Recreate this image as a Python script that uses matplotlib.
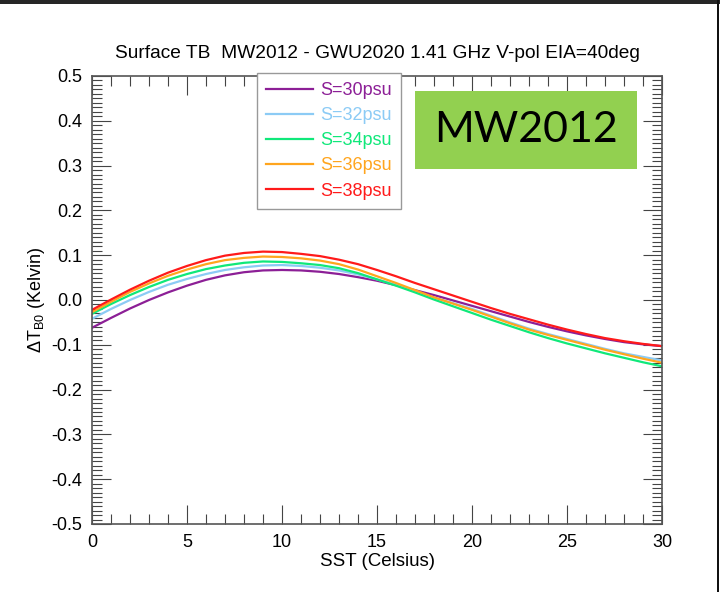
import numpy as np
import matplotlib.pyplot as plt
from matplotlib.patches import Rectangle
from matplotlib.ticker import MultipleLocator, FuncFormatter

plt.rcParams['font.family'] = ['Liberation Sans', 'DejaVu Sans']
plt.rcParams['mathtext.fontset'] = 'custom'
plt.rcParams['mathtext.rm'] = 'Liberation Sans'

# --- DATA (every 1 degC) ---
sst = list(range(0, 31))
dtb_s30 = [-0.062, -0.040, -0.019, 0.000, 0.017, 0.032, 0.045, 0.055, 0.062, 0.066,
           0.067, 0.066, 0.063, 0.058, 0.051, 0.043, 0.033, 0.022, 0.011, -0.001,
           -0.013, -0.025, -0.037, -0.049, -0.060, -0.070, -0.079, -0.087, -0.094, -0.099, -0.103]
dtb_s32 = [-0.042, -0.020, 0.000, 0.018, 0.034, 0.047, 0.058, 0.067, 0.073, 0.077,
           0.078, 0.076, 0.072, 0.066, 0.057, 0.046, 0.034, 0.019, 0.005, -0.007,
           -0.020, -0.035, -0.050, -0.064, -0.076, -0.087, -0.098, -0.109, -0.119, -0.127, -0.135]
dtb_s34 = [-0.031, -0.009, 0.011, 0.029, 0.045, 0.058, 0.069, 0.077, 0.083, 0.086,
           0.085, 0.082, 0.078, 0.071, 0.060, 0.046, 0.032, 0.017, 0.001, -0.014,
           -0.029, -0.044, -0.058, -0.072, -0.085, -0.097, -0.108, -0.119, -0.129, -0.139, -0.148]
dtb_s36 = [-0.027, -0.004, 0.018, 0.037, 0.054, 0.068, 0.080, 0.089, 0.094, 0.097,
           0.096, 0.093, 0.088, 0.080, 0.068, 0.053, 0.038, 0.022, 0.006, -0.008,
           -0.022, -0.037, -0.052, -0.066, -0.078, -0.089, -0.100, -0.111, -0.121, -0.131, -0.140]
dtb_s38 = [-0.022, 0.001, 0.023, 0.043, 0.061, 0.076, 0.089, 0.099, 0.105, 0.108,
           0.107, 0.103, 0.098, 0.090, 0.080, 0.067, 0.053, 0.038, 0.024, 0.010,
           -0.004, -0.018, -0.031, -0.043, -0.055, -0.066, -0.076, -0.085, -0.092, -0.098, -0.103]
labels = ['S=30psu', 'S=32psu', 'S=34psu', 'S=36psu', 'S=38psu']
colors = ['#8c1f96', '#8ccbf5', '#10e87a', '#ffa51e', '#ff1a1a']

fig = plt.figure(figsize=(7.2, 5.92), dpi=100)
ax = fig.add_axes([92/720, 1-524/592, 570/720, 448/592])

for y, lab, c in zip([dtb_s30, dtb_s32, dtb_s34, dtb_s36, dtb_s38], labels, colors):
    ax.plot(sst, y, color=c, lw=1.6, label=lab)

ax.set_xlim(0, 30)
ax.set_ylim(-0.5, 0.5)
ax.xaxis.set_major_locator(MultipleLocator(5))
ax.xaxis.set_minor_locator(MultipleLocator(1))
ax.yaxis.set_major_locator(MultipleLocator(0.1))
ax.yaxis.set_minor_locator(MultipleLocator(0.01))
ax.yaxis.set_major_formatter(FuncFormatter(lambda v, p: f"{v:.1f}".replace('\u2212', '-')))
ax.xaxis.set_major_formatter(FuncFormatter(lambda v, p: f"{v:.0f}"))
ax.tick_params(which='both', direction='in', top=True, right=True, color='#444444', width=0.8)
ax.tick_params(which='major', length=14, labelsize=13, pad=7)
ax.tick_params(which='minor', length=7)
for s in ax.spines.values():
    s.set_color('#555555')
    s.set_linewidth(1.2)

ax.set_title('Surface TB  MW2012 - GWU2020 1.41 GHz V-pol EIA=40deg', fontsize=13.8, pad=13)
ax.set_xlabel('SST (Celsius)', fontsize=13.5, labelpad=2)
ax.set_ylabel(r'ΔT$_{\mathrm{B0}}$ (Kelvin)', fontsize=13, labelpad=3)

leg = ax.legend(loc='upper left', bbox_to_anchor=(248/720, 1-64/592), bbox_transform=fig.transFigure,
                fontsize=13, handlelength=2.6, handletextpad=0.4, labelspacing=0.45,
                fancybox=False, edgecolor='#999999', framealpha=1, borderpad=0.5)
leg.get_frame().set_linewidth(1.0)
for txt, c in zip(leg.get_texts(), colors):
    txt.set_color(c)

# green label box
fig.patches.append(Rectangle((415/720, 1-169/592), 222/720, 78/592, transform=fig.transFigure,
                             facecolor='#92d050', edgecolor='none', zorder=5))
fig.text(526/720, 1-130/592, 'MW2012', family=['Lato', 'DejaVu Sans'], fontsize=31,
         ha='center', va='center', zorder=6)

# screenshot borders
fig.patches.append(Rectangle((0, 1-4/592), 1, 4/592, transform=fig.transFigure,
                             facecolor='#262626', edgecolor='none'))
fig.patches.append(Rectangle((717/720, 0), 2/720, 1, transform=fig.transFigure,
                             facecolor='#111111', edgecolor='none'))

fig.savefig('out.png', dpi=100)
